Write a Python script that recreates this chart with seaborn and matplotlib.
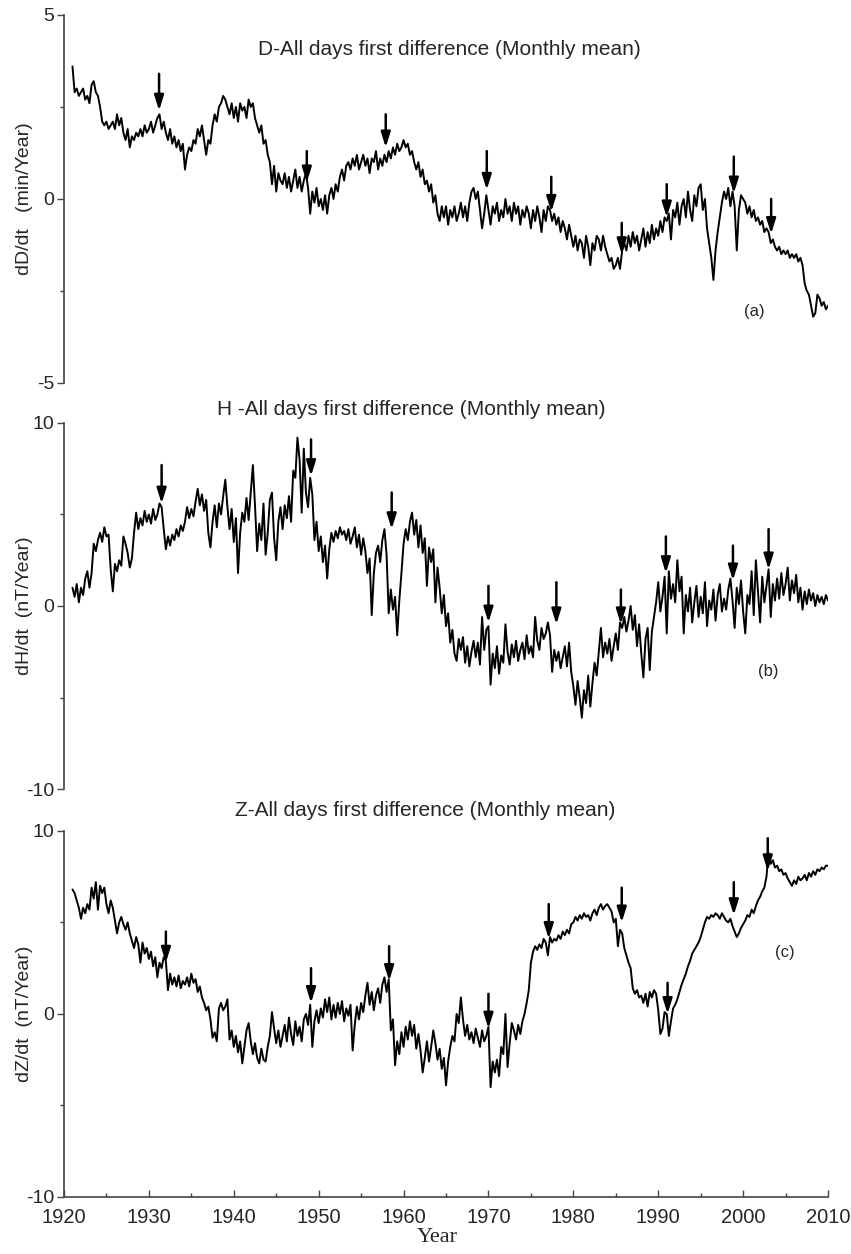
import numpy as np
import pandas as pd
import seaborn as sns
import matplotlib.pyplot as plt
from matplotlib.ticker import MultipleLocator

# Quarterly values (start 1921.0, step 0.25 yr)
start_year = 1921.0
step = 0.25

dD = [
    3.6, 2.9, 3.0, 2.8, 2.9, 3.0, 2.7, 2.8,
    2.6, 3.1, 3.2, 2.9, 2.8, 2.5, 2.1, 2.0,
    2.1, 1.9, 2.0, 2.1, 1.9, 2.3, 2.0, 2.2,
    1.8, 1.6, 1.9, 1.4, 1.7, 1.6, 1.8, 1.7,
    1.9, 1.7, 2.0, 1.8, 1.9, 2.1, 1.8, 2.0,
    2.2, 2.3, 1.9, 2.1, 1.8, 1.6, 1.9, 1.5,
    1.7, 1.4, 1.6, 1.3, 1.5, 0.8, 1.2, 1.4,
    1.3, 1.6, 1.5, 1.9, 1.7, 2.0, 1.6, 1.2,
    1.6, 1.5, 2.0, 2.3, 2.1, 2.5, 2.6, 2.8,
    2.7, 2.5, 2.3, 2.6, 2.2, 2.5, 2.1, 2.6,
    2.4, 2.5, 2.2, 2.7, 2.5, 2.6, 2.2, 2.0,
    1.8, 2.0, 1.5, 1.6, 1.2, 1.0, 0.4, 0.9,
    0.2, 0.7, 0.5, 0.4, 0.7, 0.3, 0.6, 0.2,
    0.5, 0.8, 0.3, 0.6, 0.2, 0.5, 0.7, 0.3,
    -0.4, 0.2, -0.1, 0.3, -0.2, 0.0, -0.3, 0.1,
    -0.4, 0.1, 0.3, 0.0, 0.4, 0.2, 0.6, 0.8,
    0.5, 0.9, 1.0, 0.8, 1.1, 0.9, 1.2, 0.8,
    1.0, 1.2, 0.9, 1.1, 0.7, 1.1, 1.0, 1.3,
    0.8, 1.1, 0.9, 1.2, 1.0, 1.3, 1.1, 1.4,
    1.2, 1.5, 1.3, 1.4, 1.6, 1.4, 1.5, 1.2,
    1.3, 1.0, 0.8, 1.0, 0.6, 0.8, 0.4, 0.5,
    0.2, 0.4, -0.1, 0.1, -0.4, -0.6, -0.2, -0.5,
    -0.2, -0.7, -0.3, -0.5, -0.2, -0.6, -0.4, -0.1,
    -0.5, -0.2, -0.6, -0.1, 0.2, 0.3, 0.0, 0.2,
    -0.3, -0.8, -0.4, 0.1, -0.3, -0.7, -0.2, -0.4,
    -0.1, -0.6, -0.3, -0.5, 0.0, -0.4, -0.2, -0.6,
    -0.1, -0.4, -0.2, -0.7, -0.3, -0.5, -0.2, -0.4,
    -0.8, -0.3, -0.6, -0.2, -0.5, -0.9, -0.3, -0.6,
    -0.2, -0.3, -0.6, -0.4, -0.7, -0.5, -0.9, -0.6,
    -0.8, -1.1, -0.7, -1.0, -1.3, -1.0, -1.4, -1.1,
    -1.2, -1.6, -1.0, -1.3, -1.8, -1.2, -1.4, -1.0,
    -1.1, -1.4, -1.0, -1.3, -1.5, -1.7, -1.6, -1.9,
    -1.8, -1.6, -1.9, -1.4, -1.2, -1.4, -1.0, -1.3,
    -0.9, -1.2, -1.0, -1.4, -1.1, -0.8, -1.3, -0.9,
    -1.2, -0.7, -1.1, -0.8, -1.0, -0.6, -0.9, -0.5,
    -0.6, -0.4, -1.1, -0.3, -0.5, -0.1, -0.7, -0.2,
    0.0, -0.5, 0.2, -0.3, -0.6, 0.1, -0.2, 0.3,
    0.4, -0.3, 0.0, -0.8, -1.2, -1.6, -2.2, -1.4,
    -0.9, -0.5, -0.1, 0.2, 0.0, 0.3, -0.2, 0.2,
    -0.2, -1.4, -0.3, 0.1, 0.0, -0.1, -0.4, -0.2,
    -0.5, -0.3, -0.6, -0.5, -0.7, -0.6, -0.9, -0.8,
    -0.9, -1.2, -1.1, -1.3, -1.4, -1.3, -1.5, -1.4,
    -1.5, -1.4, -1.6, -1.5, -1.6, -1.5, -1.7, -1.6,
    -1.8, -2.3, -2.5, -2.6, -2.9, -3.2, -3.1, -2.6,
    -2.7, -2.9, -2.8, -3.0, -2.9,
]

dH = [
    1.0, 0.5, 1.2, 0.2, 1.0, 0.6, 1.5, 1.9,
    1.0, 1.8, 3.4, 3.0, 3.6, 4.0, 3.5, 4.3,
    3.8, 3.9, 2.0, 0.8, 2.3, 1.9, 2.5, 2.2,
    3.8, 3.4, 2.9, 2.1, 2.6, 4.0, 5.1, 4.2,
    4.8, 4.4, 5.2, 4.6, 5.0, 4.5, 5.3, 4.7,
    5.0, 5.6, 5.4, 4.2, 3.1, 3.8, 3.3, 3.9,
    3.6, 4.2, 3.8, 4.4, 4.1, 4.6, 5.4, 4.8,
    5.3, 4.9, 5.7, 6.4, 5.5, 6.1, 5.2, 5.8,
    4.0, 3.2, 4.6, 5.5, 4.3, 5.6, 5.0, 6.0,
    6.9, 5.4, 4.2, 5.3, 3.5, 4.8, 1.8, 4.0,
    5.1, 4.6, 5.9, 4.7, 6.2, 7.7, 5.5, 3.0,
    4.5, 3.6, 5.6, 2.8, 4.0, 5.8, 6.2, 3.7,
    2.5, 4.6, 5.4, 4.2, 5.5, 4.8, 6.0, 4.6,
    7.4, 7.0, 9.2, 8.0, 5.1, 8.6, 6.2, 5.4,
    7.0, 6.1, 3.6, 4.6, 3.0, 3.8, 2.4, 3.3,
    1.5, 3.1, 4.0, 3.5, 4.1, 3.7, 4.3, 3.9,
    4.1, 3.6, 4.2, 3.4, 3.8, 4.3, 3.2, 3.9,
    2.8, 3.7, 3.0, 1.8, 2.6, -0.5, 1.8, 2.9,
    3.3, 2.4, 3.6, 4.2, 2.8, -0.4, 0.9, -0.2,
    0.5, -1.6, 0.3, 1.8, 3.4, 4.2, 3.6, 4.6,
    5.1, 3.9, 4.7, 3.2, 4.4, 2.9, 3.7, 1.1,
    3.2, 2.4, 3.1, 0.2, 2.1, 1.0, -0.4, 0.6,
    -1.1, -0.4, -2.0, -1.3, -2.6, -3.0, -1.8, -2.4,
    -1.7, -3.1, -2.2, -3.3, -2.5, -1.9, -2.8, -2.0,
    -3.2, -0.6, -2.4, -1.3, -1.1, -4.3, -2.6, -3.4,
    -2.2, -3.7, -2.7, -3.1, -1.0, -2.5, -3.2, -2.1,
    -2.8, -1.9, -3.0, -2.4, -2.0, -2.9, -1.6, -2.6,
    -2.2, -2.8, -0.6, -1.9, -2.4, -1.2, -1.8, -1.5,
    -0.9, -1.6, -3.6, -2.4, -3.0, -2.5, -3.4, -2.8,
    -2.2, -3.3, -2.0, -3.6, -4.4, -5.4, -4.1, -5.0,
    -6.1, -4.6, -5.3, -3.8, -5.5, -4.2, -3.1, -3.8,
    -2.5, -1.2, -2.8, -2.0, -2.6, -1.8, -3.0, -2.2,
    -1.5, -2.4, -0.9, -1.2, -0.6, -1.4, -0.8, 0.0,
    -1.3, -0.5, -2.2, -1.0, -2.6, -3.9, -1.8, -1.2,
    -3.5, -1.4, -0.6, 0.2, 1.3, -0.3, 0.5, 1.6,
    -1.5, 1.9, 0.4, 1.2, 0.2, 2.5, 0.8, 1.6,
    -1.5, 0.6, -0.3, 1.0, -0.9, 0.2, 1.1, -0.6,
    0.5, -0.4, 1.3, -1.1, 0.3, -0.2, 0.9, -0.8,
    0.6, 1.2, -0.3, 0.4, -0.2, 0.9, 1.5, 0.3,
    -1.2, 1.0, 0.1, 1.4, -0.3, -1.5, 0.6, 0.1,
    1.9, -0.5, 2.5, 0.8, -0.9, 1.6, 0.2, 1.1,
    2.0, -0.6, 1.2, 0.3, 1.5, 0.4, 1.8, 0.6,
    1.2, 2.1, 0.3, 1.4, 0.7, 1.7, 0.2, 1.0,
    -0.2, 0.8, 0.1, 0.9, 0.3, 0.7, 0.0, 0.6,
    0.2, 0.5, 0.1, 0.6, 0.3,
]

dZ = [
    6.8, 6.6, 6.2, 5.8, 5.2, 5.8, 5.5, 6.0,
    5.7, 6.9, 6.3, 7.2, 5.7, 7.0, 6.6, 6.9,
    6.0, 5.5, 6.2, 5.8, 5.1, 4.4, 5.0, 5.3,
    4.9, 4.6, 5.0, 4.4, 4.0, 3.6, 4.2, 3.8,
    2.8, 3.9, 3.3, 3.6, 3.0, 3.4, 2.6, 3.1,
    2.0, 2.8, 2.5, 3.1, 2.9, 1.3, 2.2, 1.6,
    2.0, 1.5, 2.1, 1.4, 1.8, 1.6, 2.0, 1.5,
    2.2, 1.7, 1.9, 1.2, 1.5, 0.9, 0.6, 0.2,
    0.4, -0.3, -1.3, -1.0, -1.5, 0.3, 0.6, 0.2,
    0.4, 0.8, -1.4, -0.9, -1.8, -1.2, -2.1, -1.5,
    -2.7, -1.8, -0.9, -0.5, -1.5, -2.2, -1.6, -2.4,
    -2.7, -1.9, -2.5, -2.6, -1.8, -1.2, 0.1, -0.8,
    -1.6, -0.9, -1.8, -1.2, -0.6, -1.5, -0.2, -1.1,
    -1.7, -0.4, -1.2, -0.7, -1.5, -0.3, 0.0, -0.6,
    0.5, -1.8, -0.4, 0.2, -0.5, 0.3, -0.2, 0.8,
    0.1, 0.9, -0.3, 0.5, -0.2, 0.6, 0.0, 0.7,
    -0.4, 0.3, -0.1, 0.5, -2.0, -0.6, 0.4, -0.3,
    0.6, 0.1, 1.0, 1.7, 0.5, 1.2, 0.2, 1.0,
    1.4, 0.6, 1.6, 2.0, 1.2, 1.9, -0.9, -0.3,
    -2.8, -1.5, -2.2, -1.0, -1.8, -0.7, -1.4, -0.4,
    -1.2, -0.6, -1.9, -1.1, -2.0, -3.2, -2.4, -1.5,
    -2.6, -1.8, -0.9, -1.6, -2.5, -1.9, -3.0, -2.4,
    -3.9, -2.6, -1.8, -1.2, -1.5, 0.0, -0.5, 0.9,
    -0.3, -1.2, -0.6, -1.4, -1.0, -1.6, -0.8, -1.3,
    -1.8, -0.9, -1.5, -1.2, -0.7, -4.0, -2.6, -3.2,
    -2.5, -3.4, -1.8, -2.2, 0.0, -2.9, -1.6, -0.5,
    -0.9, -1.4, -0.6, -1.1, -0.4, 0.0, 0.6, 1.3,
    2.8, 3.4, 3.7, 3.5, 3.8, 3.6, 4.1, 3.9,
    3.2, 4.2, 3.9, 4.1, 4.0, 4.3, 4.1, 4.5,
    4.3, 4.6, 4.4, 4.9, 5.0, 5.3, 5.1, 5.4,
    5.2, 5.5, 5.3, 5.4, 5.1, 5.5, 5.7, 5.4,
    5.8, 6.0, 5.7, 5.9, 6.0, 5.8, 5.6, 5.0,
    5.2, 3.7, 4.6, 4.4, 3.6, 3.2, 2.8, 2.5,
    1.4, 1.1, 1.3, 0.9, 1.0, 0.6, 1.1, 0.4,
    1.2, 0.9, 1.3, 1.1, 0.2, -1.1, -0.8, 0.1,
    0.0, -1.2, -0.4, 0.3, 0.5, 0.8, 1.2, 1.6,
    1.9, 2.2, 2.6, 2.9, 3.3, 3.5, 3.7, 3.9,
    4.2, 4.6, 5.0, 5.3, 5.2, 5.4, 5.3, 5.5,
    5.4, 5.2, 5.5, 5.3, 5.1, 5.0, 5.2, 4.8,
    4.5, 4.2, 4.4, 4.7, 4.9, 5.1, 5.4, 5.3,
    5.7, 5.5, 5.9, 6.2, 6.4, 6.7, 6.9, 7.5,
    8.8, 8.2, 8.4, 8.0, 8.1, 7.8, 7.9, 7.6,
    7.7, 7.4, 7.2, 7.0, 7.3, 7.1, 7.5, 7.3,
    7.4, 7.6, 7.3, 7.7, 7.5, 7.8, 7.6, 7.9,
    7.8, 8.0, 7.9, 8.1, 8.1,
]

# arrows: year, tail value, head value
arrow_year_D = [1931.2, 1948.6, 1957.9, 1969.8, 1977.4, 1985.7, 1991.0, 1998.9, 2003.3]
arrow_tail_D = [3.4, 1.3, 2.3, 1.3, 0.6, -0.65, 0.4, 1.15, 0.0]
arrow_head_D = [2.4, 0.45, 1.4, 0.25, -0.35, -1.5, -0.5, 0.15, -0.95]

arrow_year_H = [1931.5, 1949.1, 1958.6, 1970.0, 1978.0, 1985.6, 1990.9, 1998.8, 2003.0]
arrow_tail_H = [7.7, 9.1, 6.2, 1.1, 1.3, 0.9, 3.8, 3.3, 4.2]
arrow_head_H = [5.6, 7.1, 4.2, -0.9, -1.0, -1.0, 1.8, 1.4, 2.0]

arrow_year_Z = [1932.0, 1949.1, 1958.3, 1970.0, 1977.1, 1985.7, 1991.1, 1998.9, 2002.9]
arrow_tail_Z = [4.5, 2.5, 3.7, 1.1, 6.0, 6.9, 1.7, 7.2, 9.6]
arrow_head_Z = [2.8, 0.6, 1.8, -0.8, 4.1, 5.0, 0.0, 5.4, 7.8]

titles = ['D-All days first difference (Monthly mean)',
          'H -All days first difference (Monthly mean)',
          'Z-All days first difference (Monthly mean)']
ylabels = ['dD/dt   (min/Year)', 'dH/dt  (nT/Year)', 'dZ/dt  (nT/Year)']
panel_tags = ['(a)', '(b)', '(c)']
ylims = [(-5, 5), (-10, 10), (-10, 10)]
yticks = [[-5, 0, 5], [-10, 0, 10], [-10, 0, 10]]
xticks = list(range(1920, 2011, 10))

sns.set_theme(style='ticks')
plt.rcParams['font.family'] = ['Liberation Sans', 'DejaVu Sans']
plt.rcParams['axes.unicode_minus'] = False

fig = plt.figure(figsize=(8.51, 12.54), dpi=100)

# axes rectangles (figure fraction)
rects = [[0.0752, 0.6946, 0.8978, 0.2935],
         [0.0752, 0.3708, 0.8978, 0.2919],
         [0.0752, 0.0455, 0.8978, 0.2919]]
title_pos = [(0.504, 0.905), (0.455, 1.036), (0.4725, 1.057)]
tag_pos = [(0.903, 0.193), (0.9215, 0.320), (0.9437, 0.669)]

series = [dD, dH, dZ]
arrows = [(arrow_year_D, arrow_tail_D, arrow_head_D),
          (arrow_year_H, arrow_tail_H, arrow_head_H),
          (arrow_year_Z, arrow_tail_Z, arrow_head_Z)]
spine_col = '#444444'

for i in range(3):
    ax = fig.add_axes(rects[i])
    vals = np.array(series[i])
    df = pd.DataFrame({'year': start_year + step * np.arange(len(vals)), 'val': vals})
    sns.lineplot(data=df, x='year', y='val', ax=ax, color='black', linewidth=1.4,
                 estimator=None)

    for yr, tail, head in zip(*arrows[i]):
        ax.annotate('', xy=(yr, head), xytext=(yr, tail),
                    arrowprops=dict(arrowstyle='-|>,head_length=0.9,head_width=0.28',
                                    color='black', lw=1.8, shrinkA=0, shrinkB=0,
                                    mutation_scale=10))

    ax.set_xlim(1920, 2010)
    ax.set_ylim(*ylims[i])
    ax.set_yticks(yticks[i])
    ax.yaxis.set_minor_locator(MultipleLocator(yticks[i][2] / 2))
    ax.tick_params(axis='y', which='major', direction='out', length=5, width=1,
                   color=spine_col, pad=2, labelsize=14)
    ax.tick_params(axis='y', which='minor', direction='out', length=3, width=1,
                   color=spine_col)
    ax.set_ylabel(ylabels[i], fontsize=14)
    ax.yaxis.set_label_coords(-0.041, 0.5)

    ax.text(title_pos[i][0], title_pos[i][1], titles[i], transform=ax.transAxes,
            ha='center', va='center', fontsize=15)
    ax.text(tag_pos[i][0], tag_pos[i][1], panel_tags[i], transform=ax.transAxes,
            ha='center', va='center', fontsize=12)

    ax.spines['left'].set_color(spine_col)
    ax.spines['left'].set_linewidth(1.2)
    if i < 2:
        sns.despine(ax=ax, bottom=True)
        ax.set_xticks([])
        ax.set_xlabel('')
    else:
        sns.despine(ax=ax)
        ax.spines['bottom'].set_color(spine_col)
        ax.spines['bottom'].set_linewidth(1.2)
        ax.set_xticks(xticks)
        ax.xaxis.set_minor_locator(MultipleLocator(5))
        ax.tick_params(axis='x', which='major', direction='in', length=5, width=1,
                       color=spine_col, pad=8, labelsize=14.5)
        ax.tick_params(axis='x', which='minor', direction='in', length=3, width=1,
                       color=spine_col)
        ax.set_xlabel('Year', fontsize=16, family='Liberation Serif')
        ax.xaxis.set_label_coords(0.488, -0.085)
        ax.xaxis.label.set_va('top')

fig.savefig('out.png', dpi=100)
